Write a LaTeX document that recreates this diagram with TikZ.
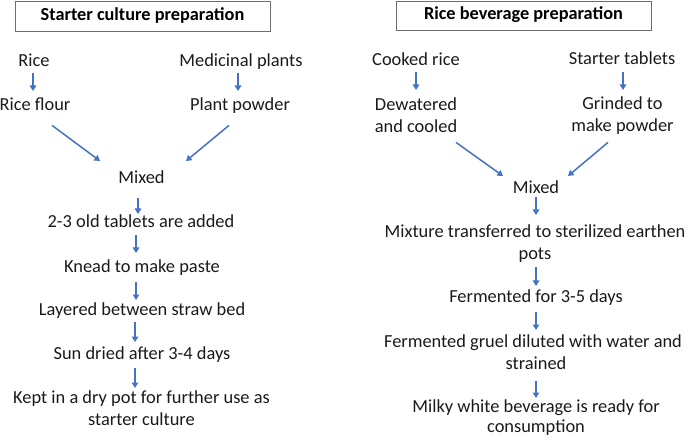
\documentclass[tikz,border=0pt]{standalone}
\usepackage{fontspec}
\setmainfont{Carlito}
\usetikzlibrary{arrows.meta,calc}
\definecolor{arrblue}{HTML}{4472C4}
\definecolor{boxgray}{HTML}{6E6E6E}
\definecolor{txt}{HTML}{1A1A1A}
\tikzset{
  lbl/.style={font=\fontsize{18.4}{22}\selectfont, text=txt, inner sep=0pt, text height=13pt, text depth=4pt, align=center, anchor=north},
  lbltwo/.style={lbl, text height=35pt},
  lbltwob/.style={lbl, text height=33pt, font=\fontsize{18.4}{20}\selectfont},
  headbox/.style={draw=boxgray, line width=0.9pt, font=\bfseries\fontsize{18.3}{22}\selectfont, text=black, inner sep=0pt, text height=13pt, text depth=4pt, minimum width=255pt},
  arr/.style={draw=arrblue, line width=1.5pt, -{Triangle[width=6.5pt,length=5.5pt]}}
}
\begin{document}
\begin{tikzpicture}[x=1pt,y=-1pt]
\useasboundingbox (0,0) rectangle (685,438);
% headings
\node[headbox, minimum height=30pt] (hL) at (142.5,16) {Starter culture preparation};
\node[headbox, minimum height=29pt] (hR) at (523.5,15.5) {Rice beverage preparation};
% left column
\node[lbl] (rice) at (34,53) {Rice};
\node[lbl] (med) at (241,53) {Medicinal plants};
\node[lbl] (rflour) at (35,97) {Rice flour};
\node[lbl] (ppow) at (240,97) {Plant powder};
\node[lbl] (mixL) at (141.5,170) {Mixed};
\node[lbl] (tab) at (141,214) {2-3 old tablets are added};
\node[lbl] (knead) at (142,259) {Knead to make paste};
\node[lbl] (layer) at (142,302) {Layered between straw bed};
\node[lbl] (sun) at (142,346) {Sun dried after 3-4 days};
\node[lbltwo] (kept) at (141.5,390) {Kept in a dry pot for further use as\\starter culture};
% right column
\node[lbl] (cooked) at (416,52) {Cooked rice};
\node[lbl] (stab) at (622,51) {Starter tablets};
\node[lbltwo] (dew) at (416,97) {Dewatered\\and cooled};
\node[lbltwo] (grind) at (622.5,96) {Grinded to\\make powder};
\node[lbl] (mixR) at (536,180) {Mixed};
\node[lbltwo] (mixt) at (535,224) {Mixture transferred to sterilized earthen\\pots};
\node[lbl] (ferm) at (536,289) {Fermented for 3-5 days};
\node[lbltwo] (gruel) at (533,334) {Fermented gruel diluted with water and\\\hspace*{6pt}strained};
\node[lbltwob] (milky) at (536,399) {Milky white beverage is ready for\\consumption};
% left arrows
\draw[arr, shorten <=3pt, shorten >=6pt] ([xshift=-1pt]rice.south) -- ([xshift=-1pt]rice.south |- rflour.north);
\draw[arr, shorten <=3pt, shorten >=6pt] ([xshift=-3pt]med.south) -- ([xshift=-3pt]med.south |- ppow.north);
\draw[arr] ($(rflour.south)+(17,11)$) -- ($(mixL.north)+(-41.5,-9)$);
\draw[arr] ($(ppow.south)+(-11,11)$) -- ($(mixL.north)+(44.5,-9)$);
\draw[arr, shorten <=11pt, shorten >=0pt] ([xshift=-3.5pt]mixL.south) -- ([xshift=-3.5pt]mixL.south |- tab.north);
\draw[arr, shorten <=4pt, shorten >=6pt] ([xshift=-5pt]tab.south) -- ([xshift=-5pt]tab.south |- knead.north);
\draw[arr, shorten <=6pt, shorten >=2pt] ([xshift=-6pt]knead.south) -- ([xshift=-6pt]knead.south |- layer.north);
\draw[arr, shorten <=3pt, shorten >=4pt] ([xshift=-7pt]layer.south) -- ([xshift=-7pt]layer.south |- sun.north);
\draw[arr, shorten <=5pt, shorten >=2pt] ([xshift=-7pt]sun.south) -- ([xshift=-7pt]sun.south |- kept.north);
% right arrows
\draw[arr, shorten <=3pt, shorten >=7pt] (cooked.south) -- (cooked.south |- dew.north);
\draw[arr, shorten <=4pt, shorten >=6pt] ([xshift=1pt]stab.south) -- ([xshift=1pt]stab.south |- grind.north);
\draw[arr] ($(dew.south)+(40,6)$) -- ($(mixR.north)+(-33,-4)$);
\draw[arr] ($(grind.south)+(-14.5,7)$) -- ($(mixR.north)+(32,-4)$);
\draw[arr, shorten <=0pt, shorten >=9pt] (mixR.south) -- (mixR.south |- mixt.north);
\draw[arr, shorten <=4pt, shorten >=3pt] (ferm.north |- mixt.south) -- (ferm.north);
\draw[arr, shorten <=6pt, shorten >=4pt] (ferm.south) -- (ferm.south |- gruel.north);
\draw[arr, shorten <=8pt, shorten >=1pt] (milky.north |- gruel.south) -- (milky.north);
\end{tikzpicture}
\end{document}
